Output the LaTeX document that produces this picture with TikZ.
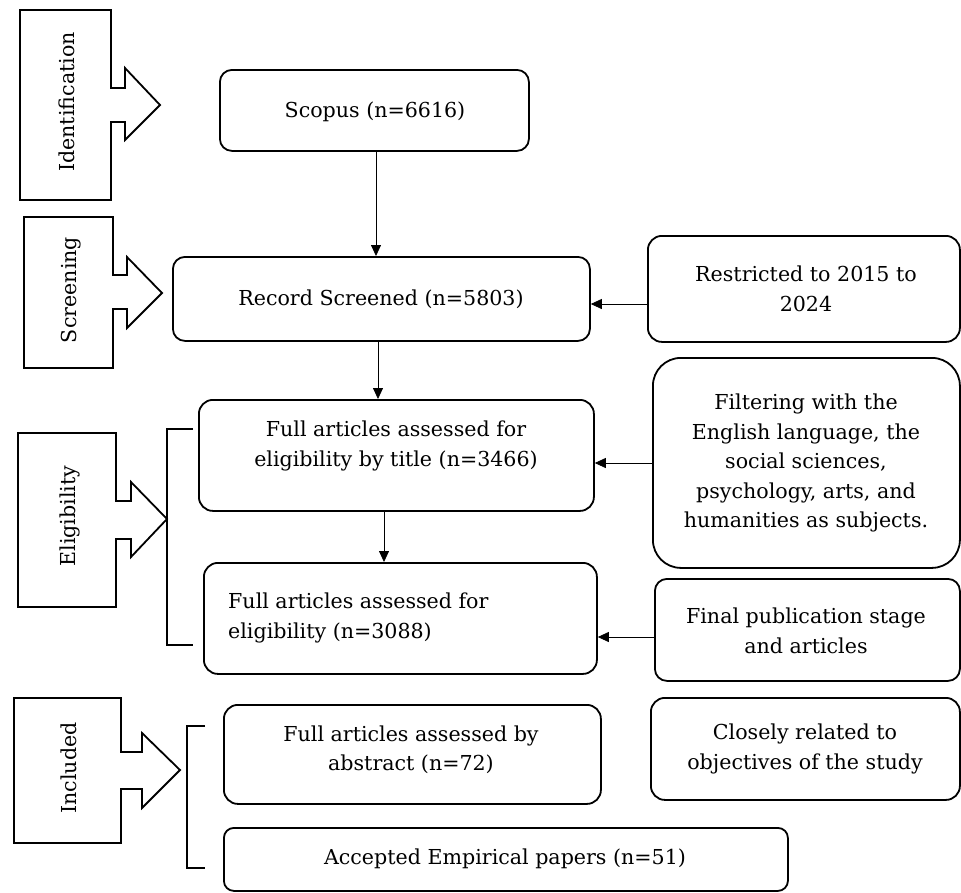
\documentclass[tikz,border=0pt]{standalone}
\usepackage{fontspec}
\setmainfont{DejaVu Serif}
\usetikzlibrary{arrows.meta}
\begin{document}
\begin{tikzpicture}[x=1pt,y=-1pt,
  box/.style={draw,line width=1.8pt,inner sep=0pt,anchor=north west},
  txt/.style={font=\fontsize{20.6}{29.5}\selectfont,align=center,inner sep=0pt},
  side/.style={font=\fontsize{20.6}{22}\selectfont,rotate=90,inner sep=0pt},
  stageshape/.style={draw,line width=1.8pt,line join=miter},
  brk/.style={draw,line width=1.8pt},
  arr/.style={line width=0.8pt,-{Triangle[length=11pt,width=10pt]}}]
\useasboundingbox (0,0) rectangle (961,892);
% left stage shapes
\path[stageshape] (20,10) -- (111,10) -- (111,88) -- (125,88) -- (125,68) -- (160,105) -- (125,140) -- (125,122) -- (111,122) -- (111,200) -- (20,200) -- cycle;
\path[stageshape] (24,217) -- (113,217) -- (113,275) -- (127,275) -- (127,257) -- (162,293) -- (127,328) -- (127,309) -- (113,309) -- (113,368) -- (24,368) -- cycle;
\path[stageshape] (18,433) -- (116,433) -- (116,501) -- (131,501) -- (131,482) -- (167,519) -- (131,557) -- (131,539) -- (116,539) -- (116,607) -- (18,607) -- cycle;
\path[stageshape] (14,698) -- (121,698) -- (121,752) -- (142,752) -- (142,733) -- (180,770) -- (142,808) -- (142,789) -- (121,789) -- (121,843) -- (14,843) -- cycle;
\node[side] (lident) at (67,102) {Identification};
\node[side] (lscreen) at (71,290) {Screening};
\node[side] (lelig) at (70,516) {Eligibility};
\node[side] (lincl) at (69,768) {Included};
% brackets
\path[brk] (193,429) -- (167,429) -- (167,645) -- (193,645);
\path[brk] (205,726) -- (187,726) -- (187,868) -- (205,868);
% boxes
\node[box,rounded corners=12pt,minimum width=309pt,minimum height=81pt] (scopus) at (219,69) {};
\node[box,rounded corners=12pt,minimum width=417pt,minimum height=84pt] (rec) at (172,256) {};
\node[box,rounded corners=14pt,minimum width=395pt,minimum height=111pt] (ftitle) at (198,399) {};
\node[box,rounded corners=14pt,minimum width=393pt,minimum height=111pt] (f3088) at (203,562) {};
\node[box,rounded corners=14pt,minimum width=312pt,minimum height=106pt] (restr) at (647,235) {};
\node[box,rounded corners=28pt,minimum width=307pt,minimum height=210pt] (filt) at (652,357) {};
\node[box,rounded corners=12pt,minimum width=305pt,minimum height=102pt] (final) at (654,578) {};
\node[box,rounded corners=14pt,minimum width=309pt,minimum height=102pt] (close) at (650,697) {};
\node[box,rounded corners=14pt,minimum width=377pt,minimum height=99pt] (fabs) at (223,704) {};
\node[box,rounded corners=10pt,minimum width=564pt,minimum height=63pt] (acc) at (223,827) {};
% texts
\node[txt] (tscopus) at (375,112) {Scopus (n=6616)};
\node[txt] (trec) at (381,299) {Record Screened (n=5803)};
\node[txt] (tftitle) at (396,446) {Full articles assessed for\\eligibility by title (n=3466)};
\node[txt,align=left,anchor=west] (tf3088) at (228,618) {Full articles assessed for\\eligibility (n=3088)};
\node[txt] (trestr) at (806,289) {Restricted to 2015 to\\2024};
\node[txt] (tfilt) at (806,463) {Filtering with the\\English language, the\\social sciences,\\psychology, arts, and\\humanities as subjects.};
\node[txt] (tfinal) at (806,631) {Final publication stage\\and articles};
\node[txt] (tclose) at (805,749) {Closely related to\\objectives of the study};
\node[txt] (tfabs) at (411,750) {Full articles assessed by\\abstract (n=72)};
\node[txt] (tacc) at (505,859) {Accepted Empirical papers (n=51)};
% connectors
\draw[arr] (scopus.south -| 376,0) -- (rec.north -| 376,0);
\draw[arr] (rec.south -| 378,0) -- (ftitle.north -| 378,0);
\draw[arr] (ftitle.south -| 384,0) -- (f3088.north -| 384,0);
\draw[arr] (restr.west |- 0,304) -- (rec.east |- 0,304);
\draw[arr] (filt.west |- 0,463) -- (ftitle.east |- 0,463);
\draw[arr] (final.west |- 0,637) -- (f3088.east |- 0,637);
\end{tikzpicture}
\end{document}
